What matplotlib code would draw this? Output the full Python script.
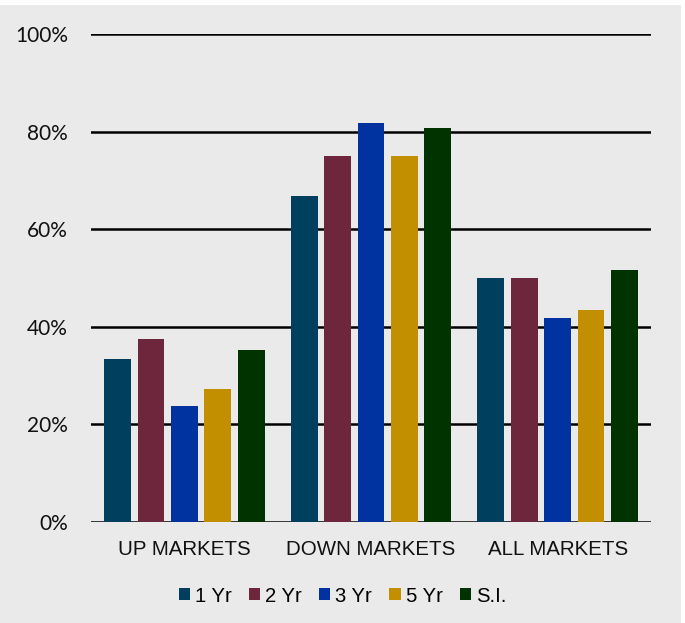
import numpy as np
import matplotlib
matplotlib.use('Agg')
import matplotlib.pyplot as plt
from matplotlib.patches import Rectangle

# dados
categorias = ['UP MARKETS', 'DOWN MARKETS', 'ALL MARKETS']
series = ['1 Yr', '2 Yr', '3 Yr', '5 Yr', 'S.I.']
v_1yr = [33.3, 66.7, 50.0]
v_2yr = [37.5, 75.0, 50.0]
v_3yr = [23.8, 81.8, 41.7]
v_5yr = [27.3, 75.0, 43.5]
v_si = [35.3, 80.8, 51.6]
yticks = [0, 20, 40, 60, 80, 100]

valores = [v_1yr, v_2yr, v_3yr, v_5yr, v_si]
cores = ['#003F5E', '#6E263D', '#0033A0', '#C28F00', '#003300']
fundo = '#EAEAEA'

fig = plt.figure(figsize=(6.85, 6.23), dpi=100, facecolor='white')
# painel cinza (faixa branca no topo)
fig.patches.append(Rectangle((0, 0), 681/685, 618/623, transform=fig.transFigure,
                             facecolor=fundo, edgecolor='none', zorder=-10))

ax = fig.add_axes([91/685, (623-521.7)/623, 560/685, 487.7/623])
ax.set_facecolor(fundo)
ax.patch.set_alpha(0)

x = np.arange(len(categorias))
passo = 0.179
largura = 0.143
for i, (nome, vals, cor) in enumerate(zip(series, valores, cores)):
    ax.bar(x + (i - 2) * passo, vals, largura, color=cor, label=nome, zorder=3)

# linhas de grade
for t in yticks:
    ax.axhline(t, color='black', lw=1.8, zorder=2)

ax.set_xlim(-0.5, 2.5)
ax.set_ylim(0, 100)
ax.set_yticks(yticks)
ax.set_yticklabels([f'{t}%' for t in yticks], family='Lato', fontsize=15, color='#111111')
ax.set_xticks(x)
ax.set_xticklabels(categorias, family='Liberation Sans', fontsize=14.8, color='#111111')
ax.tick_params(axis='y', length=0, pad=16.5)
ax.tick_params(axis='x', length=0, pad=13)
for s in ax.spines.values():
    s.set_visible(False)

fig.legend(loc='center', bbox_to_anchor=(0.5, 0.0433), ncol=5, frameon=False,
           prop={'family': 'Liberation Sans', 'size': 14.6},
           handlelength=0.55, handleheight=0.55, handletextpad=0.25,
           columnspacing=0.85, borderpad=0)

fig.savefig('out.png', dpi=100, facecolor=fig.get_facecolor())
